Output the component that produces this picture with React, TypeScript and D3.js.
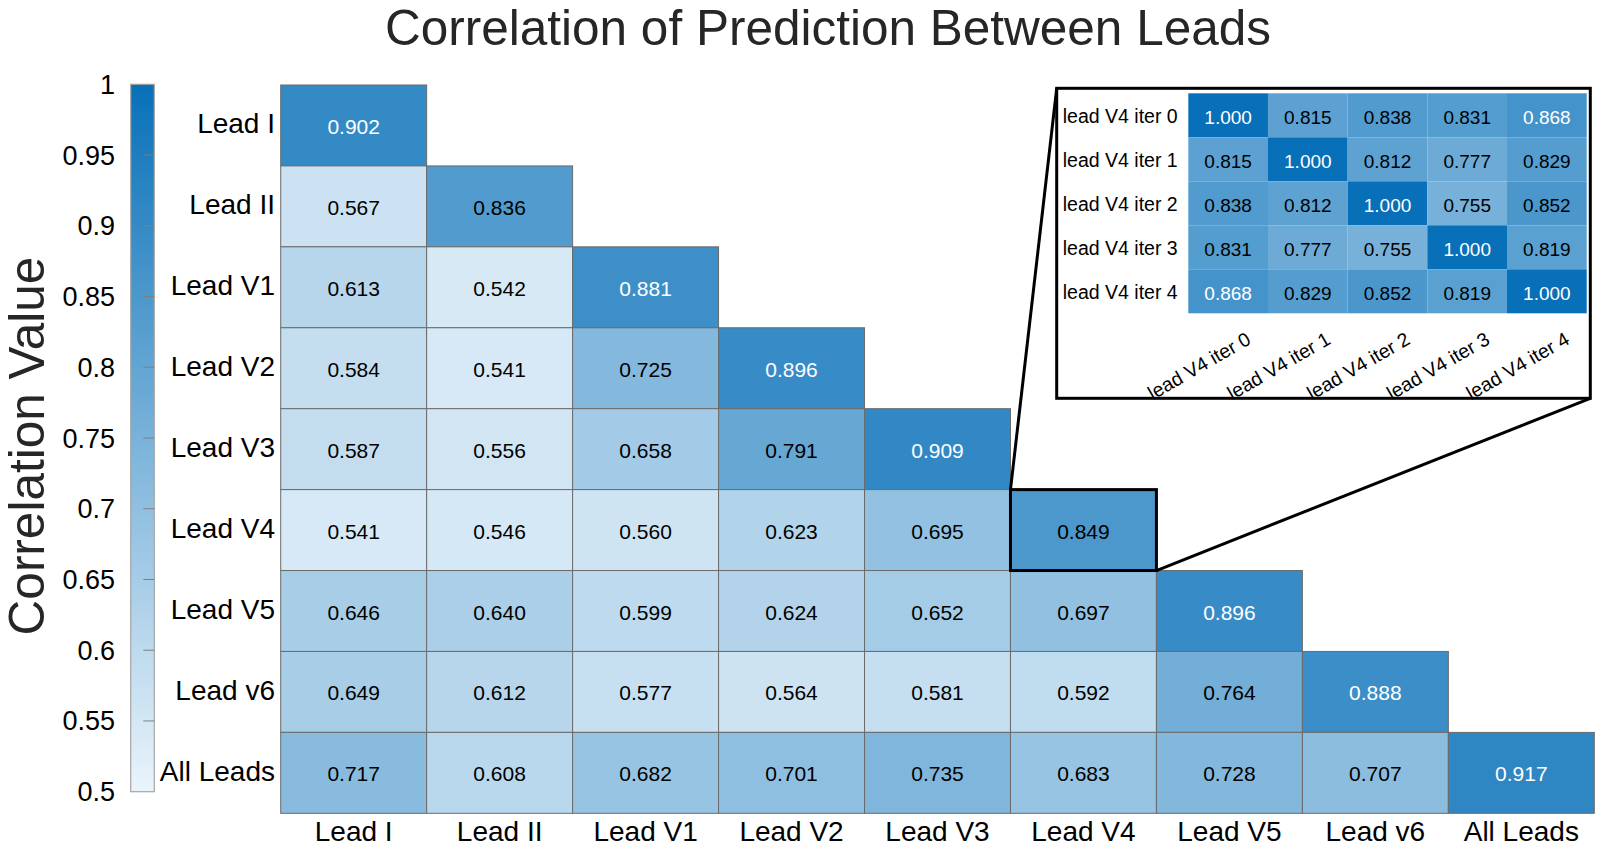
import React from "react";
import * as d3 from "d3";

const leads = ["Lead I", "Lead II", "Lead V1", "Lead V2", "Lead V3", "Lead V4", "Lead V5", "Lead v6", "All Leads"];

const corrRows: number[][] = [
  [0.902],
  [0.567, 0.836],
  [0.613, 0.542, 0.881],
  [0.584, 0.541, 0.725, 0.896],
  [0.587, 0.556, 0.658, 0.791, 0.909],
  [0.541, 0.546, 0.560, 0.623, 0.695, 0.849],
  [0.646, 0.640, 0.599, 0.624, 0.652, 0.697, 0.896],
  [0.649, 0.612, 0.577, 0.564, 0.581, 0.592, 0.764, 0.888],
  [0.717, 0.608, 0.682, 0.701, 0.735, 0.683, 0.728, 0.707, 0.917],
];

const iterLabels = ["lead V4 iter 0", "lead V4 iter 1", "lead V4 iter 2", "lead V4 iter 3", "lead V4 iter 4"];
const iterRows: number[][] = [
  [1.000, 0.815, 0.838, 0.831, 0.868],
  [0.815, 1.000, 0.812, 0.777, 0.829],
  [0.838, 0.812, 1.000, 0.755, 0.852],
  [0.831, 0.777, 0.755, 1.000, 0.819],
  [0.868, 0.829, 0.852, 0.819, 1.000],
];

const cbTicks = [0.5, 0.55, 0.6, 0.65, 0.7, 0.75, 0.8, 0.85, 0.9, 0.95, 1];
const highlightLead = "Lead V4";

const FONT = "'Liberation Sans', Arial, Helvetica, sans-serif";

export default function App() {
  const W = 1600, H = 847;
  const color = d3.scaleLinear<string>().domain([0.5, 1]).range(["#eaf4fb", "#0870b8"]).interpolate(d3.interpolateRgb).clamp(true);

  const x = d3.scaleBand<string>().domain(leads).range([280.7, 1594.3]);
  const y = d3.scaleBand<string>().domain(leads).range([85, 813.3]);

  const cb = d3.scaleLinear().domain([0.5, 1]).range([791.7, 84.3]);
  const cbX0 = 130.7, cbX1 = 154.3;

  const ix = d3.scaleBand<string>().domain(iterLabels).range([1188.3, 1586.7]);
  const iy = d3.scaleBand<string>().domain(iterLabels).range([93.3, 313.3]);
  const box = { x0: 1056.7, y0: 88.3, x1: 1590.3, y1: 398.3 };

  const textColor = (v: number) => (v > 0.86 ? "#ffffff" : "#000000");
  const vfs = 21;
  const ifs = 19;
  const lfs = 19.5;

  const gradStops = d3.range(0, 1.0001, 0.05).map((t) => ({ t, c: color(0.5 + 0.5 * t) }));

  const hx = x(highlightLead)!;
  const hy = y(highlightLead)!;
  const bw = x.bandwidth();
  const bh = y.bandwidth();

  return (
    <div style={{ position: "fixed", left: 0, top: 0, width: W, height: H, background: "#fff" }}>
      <svg width={W} height={H} style={{ display: "block", fontFamily: FONT }}>
        <defs>
          <linearGradient id="cbgrad" x1="0" y1="1" x2="0" y2="0">
            {gradStops.map((s, i) => (
              <stop key={i} offset={s.t} stopColor={s.c} />
            ))}
          </linearGradient>
        </defs>
        <rect x={0} y={0} width={W} height={H} fill="#fff" />

        {/* Title */}
        <text x={828} y={45} textAnchor="middle" fontSize={49.5} fill="#262626">
          Correlation of Prediction Between Leads
        </text>

        {/* Y label */}
        <text transform={`translate(44,446) rotate(-90)`} textAnchor="middle" fontSize={49.5} fill="#262626">
          Correlation Value
        </text>

        {/* Colorbar */}
        <rect x={cbX0} y={cb(1)} width={cbX1 - cbX0} height={cb(0.5) - cb(1)} fill="url(#cbgrad)" stroke="#a6a6a6" strokeWidth={1.2} />
        {cbTicks.map((t) => (
          <g key={t}>
            {t > 0.5 && t < 1 && <line x1={cbX1 - 11} x2={cbX1} y1={cb(t)} y2={cb(t)} stroke="#7f7f7f" strokeWidth={1} />}
            <text x={115} y={cb(t) + 9.5} textAnchor="end" fontSize={27} fill="#000">
              {d3.format("")(t)}
            </text>
          </g>
        ))}

        {/* Main heatmap */}
        {corrRows.map((row, ri) =>
          row.map((v, ci) => {
            const cx = x(leads[ci])!;
            const cy = y(leads[ri])!;
            return (
              <g key={`${ri}-${ci}`}>
                <rect x={cx} y={cy} width={bw} height={bh} fill={color(v)} stroke="#6b6b6b" strokeWidth={1} />
                <text x={cx + bw / 2} y={cy + bh / 2 + 0.716 * vfs / 2 + 1} textAnchor="middle" fontSize={vfs} fill={textColor(v)}>
                  {v.toFixed(3)}
                </text>
              </g>
            );
          })
        )}

        {/* Row labels */}
        {leads.map((l) => (
          <text key={l} x={275} y={y(l)! + bh / 2 + 8} textAnchor="end" fontSize={28} fill="#000">
            {l}
          </text>
        ))}
        {/* Column labels */}
        {leads.map((l) => (
          <text key={l} x={x(l)! + bw / 2} y={840.5} textAnchor="middle" fontSize={28} fill="#000">
            {l}
          </text>
        ))}

        {/* Highlight */}
        <rect x={hx} y={hy} width={bw} height={bh} fill="none" stroke="#000" strokeWidth={3} />
        <line x1={hx} y1={hy} x2={box.x0} y2={box.y0} stroke="#000" strokeWidth={3} />
        <line x1={hx + bw} y1={hy + bh} x2={box.x1} y2={box.y1} stroke="#000" strokeWidth={3} />

        {/* Inset */}
        <rect x={box.x0} y={box.y0} width={box.x1 - box.x0} height={box.y1 - box.y0} fill="#fff" stroke="#000" strokeWidth={3} />
        {iterRows.map((row, ri) =>
          row.map((v, ci) => {
            const cx = ix(iterLabels[ci])!;
            const cy = iy(iterLabels[ri])!;
            return (
              <g key={`i${ri}-${ci}`}>
                <rect x={cx} y={cy} width={ix.bandwidth()} height={iy.bandwidth()} fill={color(v)} />
                <text x={cx + ix.bandwidth() / 2} y={cy + iy.bandwidth() / 2 + 0.716 * ifs / 2 + 1.5} textAnchor="middle" fontSize={ifs} fill={textColor(v)}>
                  {v.toFixed(3)}
                </text>
              </g>
            );
          })
        )}
        {iterLabels.map((l) => (
          <text key={l} x={1177.7} y={iy(l)! + iy.bandwidth() / 2 + 8} textAnchor="end" fontSize={lfs} fill="#000">
            {l}
          </text>
        ))}
        {iterLabels.map((l) => {
          const ax = ix(l)! + ix.bandwidth() / 2 + 24;
          const ay = 343;
          return (
            <text key={l} transform={`translate(${ax},${ay}) rotate(-30)`} textAnchor="end" fontSize={lfs} fill="#000">
              {l}
            </text>
          );
        })}
      </svg>
    </div>
  );
}
